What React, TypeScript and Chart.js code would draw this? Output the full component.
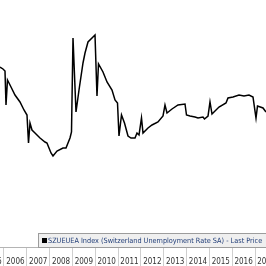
import React, { useEffect, useRef } from 'react';
import { Chart, registerables } from 'chart.js';

Chart.register(...registerables);

const seriesLabel = 'SZUEUEA Index (Switzerland Unemployment Rate SA) - Last Price';
const yearTicks = [2005, 2006, 2007, 2008, 2009, 2010, 2011, 2012, 2013, 2014, 2015, 2016, 2017];
const dates = [
  2005.825, 2005.956, 2006.044, 2006.088, 2006.153, 2006.307, 2006.482, 2006.701, 2006.876, 2007.008,
  2007.074, 2007.139, 2007.227, 2007.358, 2007.446, 2007.578, 2007.797, 2007.884, 2007.972, 2008.060,
  2008.147, 2008.323, 2008.585, 2008.717, 2008.892, 2008.958, 2009.024, 2009.155, 2009.287, 2009.462,
  2009.550, 2009.681, 2009.900, 2009.988, 2010.075, 2010.141, 2010.338, 2010.514, 2010.733, 2010.864,
  2010.974, 2011.039, 2011.149, 2011.280, 2011.434, 2011.565, 2011.741, 2011.828, 2011.916, 2012.025,
  2012.091, 2012.310, 2012.486, 2012.748, 2012.968, 2013.055, 2013.143, 2013.362, 2013.625, 2013.932,
  2013.997, 2014.151, 2014.370, 2014.501, 2014.720, 2014.786, 2014.940, 2015.027, 2015.115, 2015.421,
  2015.728, 2015.816, 2016.035, 2016.298, 2016.517, 2016.736, 2016.911, 2017.043, 2017.109, 2017.350,
  2017.481,
];
const rates = [
  3.795, 3.765, 3.735, 3.225, 3.6, 3.495, 3.375, 3.27, 3.15, 3.075,
  2.655, 2.955, 2.85, 2.805, 2.775, 2.73, 2.67, 2.655, 2.58, 2.505,
  2.46, 2.535, 2.58, 2.58, 2.73, 2.82, 4.23, 3.12, 3.45, 3.855,
  4.005, 4.17, 4.245, 4.275, 3.36, 3.84, 3.72, 3.57, 3.45, 3.3,
  3.255, 2.76, 3.075, 2.955, 2.76, 2.73, 2.73, 2.805, 2.775, 3.03,
  2.805, 2.88, 2.925, 2.97, 3.06, 3.225, 3.105, 3.165, 3.225, 3.24,
  3.075, 3.06, 3.045, 3.03, 3.045, 3.015, 3.06, 3.27, 3.09, 3.195,
  3.255, 3.33, 3.345, 3.375, 3.36, 3.375, 3.345, 3.03, 3.21, 3.18,
  3.12,
];

const FONT = '"DejaVu Sans Condensed", "DejaVu Sans", sans-serif';

export default function App() {
  const ref = useRef<HTMLCanvasElement>(null);
  useEffect(() => {
    if (!ref.current) return;
    const legendPlugin = {
      id: 'bbgLegend',
      afterDraw(chart: any) {
        const ctx = chart.ctx;
        const area = chart.chartArea;
        const h = 14;
        const x0 = 38;
        const y0 = area.bottom - h;
        ctx.save();
        ctx.fillStyle = '#efefef';
        ctx.fillRect(x0, y0, chart.width - x0 + 4, h);
        ctx.strokeStyle = '#9c9c9c';
        ctx.lineWidth = 1;
        ctx.strokeRect(x0 + 0.5, y0 + 0.5, chart.width - x0 + 4, h);
        const ds = chart.data.datasets[0];
        ctx.fillStyle = ds.borderColor;
        ctx.fillRect(x0 + 4, y0 + 5, 5, 5);
        ctx.fillStyle = '#24407a';
        ctx.font = '7.25px ' + FONT;
        ctx.textBaseline = 'middle';
        ctx.textAlign = 'left';
        ctx.fillText(ds.label, x0 + 10, y0 + h / 2 + 1);
        ctx.restore();
      },
    };
    const chart = new Chart(ref.current, {
      type: 'line',
      data: {
        datasets: [
          {
            label: seriesLabel,
            data: dates.map((d, i) => ({ x: d, y: rates[i] })),
            borderColor: '#000000',
            borderWidth: 1.5,
            pointRadius: 0,
            tension: 0,
            fill: false,
          },
        ],
      },
      options: {
        animation: false,
        responsive: false,
        maintainAspectRatio: false,
        layout: { padding: 0, autoPadding: false } as any,
        plugins: { legend: { display: false }, tooltip: { enabled: false } },
        scales: {
          x: {
            type: 'linear',
            min: 2005.825,
            max: 2017.481,
            afterBuildTicks: (s: any) => {
              s.ticks = yearTicks.map((v) => ({ value: v }));
            },
            afterFit: (s: any) => {
              s.height = 19;
              s.paddingLeft = 0;
              s.paddingRight = 0;
            },
            grid: {
              drawOnChartArea: false,
              drawTicks: true,
              tickLength: 19,
              color: '#cfcfcf',
              lineWidth: 1,
            },
            border: { display: true, color: '#b4b4b4' },
            ticks: {
              autoSkip: false,
              maxRotation: 0,
              minRotation: 0,
              padding: -9,
              labelOffset: 11.41,
              color: '#333333',
              font: { family: FONT, size: 8 },
              callback: (v: any) => String(v),
            },
          },
          y: { display: false, min: 1.095, max: 4.8 },
        },
      },
      plugins: [legendPlugin],
    });
    return () => chart.destroy();
  }, []);
  return (
    <div style={{ position: 'fixed', left: 0, top: 0, width: 266, height: 266, background: '#fff' }}>
      <canvas ref={ref} width={266} height={266} style={{ display: 'block' }} />
    </div>
  );
}
